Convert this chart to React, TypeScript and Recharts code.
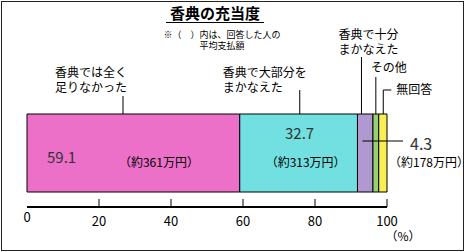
import { BarChart, Bar, XAxis, YAxis, LabelList } from "recharts";

const categories = ["香典"];
const seriesKeys = ["notEnough", "mostly", "fully", "other", "noAnswer"];
const seriesNames = [
  ["香典では全く", "足りなかった"],
  ["香典で大部分を", "まかなえた"],
  ["香典で十分", "まかなえた"],
  ["その他"],
  ["無回答"],
];
const seriesValues = [59.1, 32.7, 4.3, 1.6, 2.3];
const valueLabels = ["59.1", "32.7", "4.3", "", ""];
const amountLabels = ["（約361万円）", "（約313万円）", "（約178万円）", "", ""];
const seriesColors = ["#ec70c8", "#72e0e0", "#b098d0", "#98d078", "#f8f050"];
const xTicks = [0, 20, 40, 60, 80, 100];

const FONT = '"Noto Sans CJK JP", "Noto Sans", sans-serif';

const data = categories.map((name) => {
  const row: Record<string, string | number> = { name };
  seriesKeys.forEach((k, i) => (row[k] = seriesValues[i]));
  return row;
});

function geom(props: any) {
  const vb = props.viewBox ?? {};
  return {
    x: Number(props.x ?? vb.x),
    y: Number(props.y ?? vb.y),
    w: Number(props.width ?? vb.width),
    h: Number(props.height ?? vb.height),
  };
}

const line = { stroke: "#000", strokeWidth: 1 };

function makeLabel(i: number) {
  return (props: any) => {
    const { x, y, w } = geom(props);
    const names = seriesNames[i];
    if (i === 0) {
      const lx = x + 96;
      return (
        <g fontFamily={FONT} fill="#000">
          <line x1={lx} y1={96} x2={lx} y2={y} {...line} />
          <text x={lx - 68} y={77} fontSize={12}>{names[0]}</text>
          <text x={lx - 68} y={92} fontSize={12}>{names[1]}</text>
          <text x={x + 20} y={y + 49} fontSize={15} fill="#333">{valueLabels[i]}</text>
          <text x={x + w * 0.62} y={y + 53} fontSize={12} textAnchor="middle">{amountLabels[i]}</text>
        </g>
      );
    }
    if (i === 1) {
      const lx = x + 60;
      return (
        <g fontFamily={FONT} fill="#000">
          <line x1={lx} y1={90} x2={lx} y2={y} {...line} />
          <text x={lx - 77} y={77} fontSize={12}>{names[0]}</text>
          <text x={lx - 77} y={92} fontSize={12}>{names[1]}</text>
          <text x={x + w / 2 + 1} y={y + 25} fontSize={15} textAnchor="middle" fill="#333">{valueLabels[i]}</text>
          <text x={x + w / 2 + 7} y={y + 53} fontSize={12} textAnchor="middle">{amountLabels[i]}</text>
        </g>
      );
    }
    if (i === 2) {
      const lx = x + 4;
      return (
        <g fontFamily={FONT} fill="#000">
          <line x1={lx} y1={57} x2={lx} y2={y} {...line} />
          <text x={lx - 23} y={39} fontSize={12}>{names[0]}</text>
          <text x={lx - 23} y={54} fontSize={12}>{names[1]}</text>
          <line x1={x + 5} y1={141} x2={403} y2={141} {...line} />
          <text x={410} y={150} fontSize={16} fill="#333">{valueLabels[i]}</text>
          <text x={389} y={167} fontSize={12}>{amountLabels[i]}</text>
        </g>
      );
    }
    if (i === 3) {
      const lx = x + w / 2;
      return (
        <g fontFamily={FONT} fill="#000">
          <line x1={lx} y1={77} x2={lx} y2={y} {...line} />
          <text x={lx - 5} y={72} fontSize={12}>{names[0]}</text>
        </g>
      );
    }
    const lx = x + w * 0.55;
    return (
      <g fontFamily={FONT} fill="#000">
        <line x1={lx} y1={90} x2={lx} y2={y} {...line} />
        <line x1={lx} y1={90} x2={lx + 8} y2={90} {...line} />
        <text x={lx + 13} y={94} fontSize={12}>{names[0]}</text>
      </g>
    );
  };
}

function XTick(props: any) {
  const { x, y, payload } = props;
  const v = payload.value;
  return (
    <g fontFamily={FONT}>
      {v !== 0 && <line x1={x} y1={y - 8} x2={x} y2={y} stroke="#000" strokeWidth={1} />}
      <text x={x} y={v === 0 ? y + 15 : y + 19} fontSize={13} textAnchor="middle" fill="#000">
        {v}
      </text>
      {v === 100 && (
        <text x={x + 16} y={y + 34} fontSize={12} textAnchor="middle" fill="#000">
          （%）
        </text>
      )}
    </g>
  );
}

export default function App() {
  return (
    <div style={{ position: "absolute", left: 0, top: 0, width: 468, height: 252, background: "#fff" }}>
      <div
        style={{
          position: "absolute",
          left: 1,
          top: 1,
          width: 463,
          height: 250,
          boxSizing: "border-box",
          border: "1px solid #222",
        }}
      />
      <div
        style={{
          position: "absolute",
          left: 166,
          top: 4,
          width: 98,
          textAlign: "center",
          fontFamily: FONT,
          fontSize: 15,
          fontWeight: 700,
          lineHeight: "18px",
          borderBottom: "1px solid #000",
        }}
      >
        香典の充当度
      </div>
      <div
        style={{
          position: "absolute",
          left: 152,
          top: 29,
          width: 140,
          textAlign: "center",
          fontFamily: FONT,
          fontSize: 9,
          lineHeight: "11px",
        }}
      >
        ※（　）内は、回答した人の
        <br />
        平均支払額
      </div>
      <div style={{ position: "absolute", left: 0, top: 0 }}>
        <BarChart
          width={468}
          height={252}
          data={data}
          layout="vertical"
          margin={{ top: 99, right: 81, bottom: 15, left: 27 }}
          barSize={78}
        >
          <XAxis
            type="number"
            domain={[0, 100]}
            ticks={xTicks}
            interval={0}
            height={30}
            tickSize={0}
            tickMargin={0}
            tickLine={false}
            axisLine={{ stroke: "#000", strokeWidth: 2 }}
            tick={<XTick />}
          />
          <YAxis
            type="category"
            dataKey="name"
            width={0}
            tick={false}
            tickLine={false}
            axisLine={{ stroke: "#000", strokeWidth: 2 }}
          />
          {seriesKeys.map((k, i) => (
            <Bar
              key={k}
              dataKey={k}
              stackId="a"
              fill={seriesColors[i]}
              stroke="#000"
              strokeWidth={1}
              isAnimationActive={false}
            >
              <LabelList dataKey={k} content={makeLabel(i)} />
            </Bar>
          ))}
        </BarChart>
      </div>
    </div>
  );
}
